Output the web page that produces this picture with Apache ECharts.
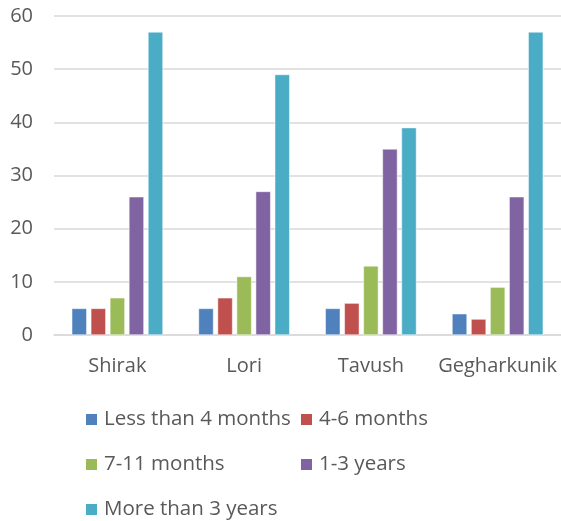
<!DOCTYPE html>
<html><head><meta charset="utf-8">
<script src="https://cdn.jsdelivr.net/npm/echarts@6/dist/echarts.min.js"></script>
<style>html,body{margin:0;padding:0;background:#fff}#c{width:561px;height:521px}</style>
</head><body><div id="c"></div>
<script>
const categories = ["Shirak", "Lori", "Tavush", "Gegharkunik"];
const seriesNames = ["Less than 4 months", "4-6 months", "7-11 months", "1-3 years", "More than 3 years"];
const lessThan4Months = [5, 5, 5, 4];
const months4to6 = [5, 7, 6, 3];
const months7to11 = [7, 11, 13, 9];
const years1to3 = [26, 27, 35, 26];
const moreThan3Years = [57, 49, 39, 57];
const colors = ["#4F81BD", "#C0504D", "#9BBB59", "#8064A2", "#4BACC6"];
const values = [lessThan4Months, months4to6, months7to11, years1to3, moreThan3Years];

const font = "'Open Sans', 'Noto Sans', sans-serif";
const legendPos = [[84, 409], [299, 409], [84, 454], [299, 454], [84, 499]];
const chart = echarts.init(document.getElementById('c'));
chart.setOption({
  animation: false,
  color: colors,
  grid: { left: 54, right: 0, top: 16, bottom: 186 },
  xAxis: {
    type: 'category', data: categories,
    axisLine: { lineStyle: { color: '#D9D9D9', width: 1.5 } },
    axisTick: { show: false },
    axisLabel: { color: '#595959', fontSize: 20, fontFamily: font, margin: 21, interval: 0 }
  },
  yAxis: {
    type: 'value', min: 0, max: 60, interval: 10,
    axisLine: { show: false }, axisTick: { show: false },
    splitLine: { lineStyle: { color: '#D9D9D9', width: 1.5 } },
    axisLabel: { color: '#595959', fontSize: 20, fontFamily: font, margin: 21 }
  },
  legend: seriesNames.map((n, i) => ({
    data: [n], left: legendPos[i][0], top: legendPos[i][1],
    itemWidth: 13, itemHeight: 13, itemGap: 0, padding: 0,
    icon: 'rect',
    textStyle: { color: '#595959', fontSize: 20.5, fontFamily: font, padding: [0, 0, 0, 1] }
  })),
  series: seriesNames.map((n, i) => ({
    name: n, type: 'bar', data: values[i],
    barWidth: 15, barGap: '27%',
    itemStyle: { color: colors[i], borderColor: '#fff', borderWidth: 0.5 }
  }))
});
</script></body></html>
